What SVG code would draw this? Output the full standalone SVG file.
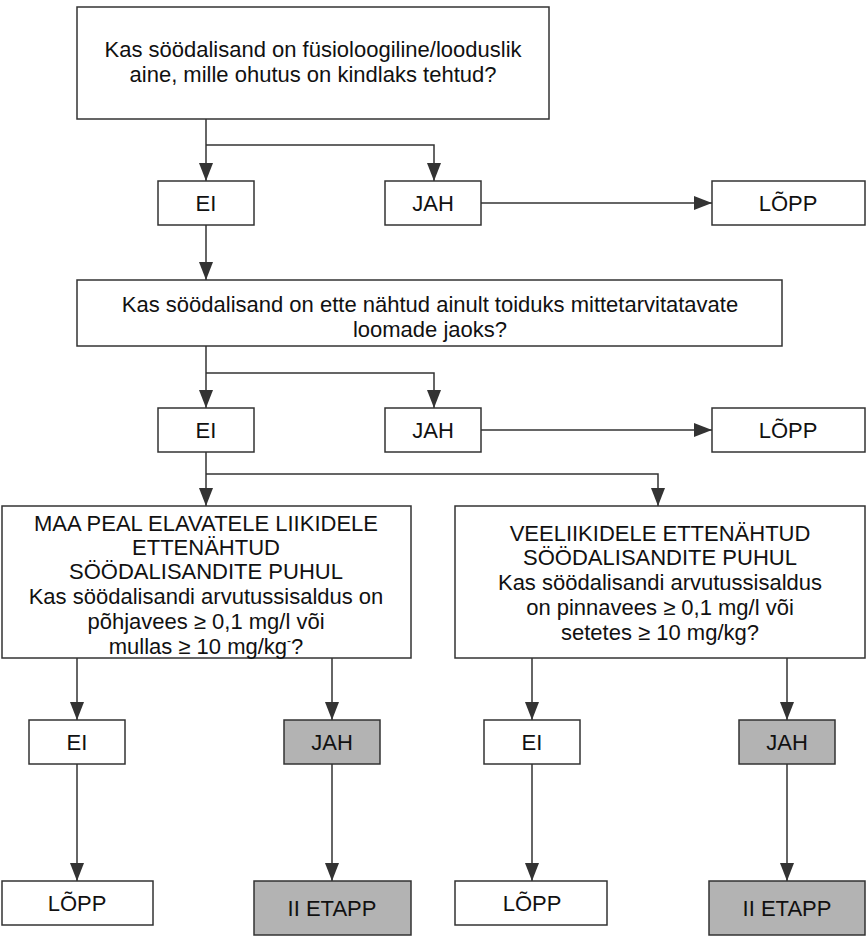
<svg xmlns="http://www.w3.org/2000/svg" width="866" height="945" viewBox="0 0 866 945">
<style>
.b{fill:#fff;stroke:#333;stroke-width:1.5}
.g{fill:#b3b3b3;stroke:#333;stroke-width:1.5}
.t{font-family:"Liberation Sans",Arial,sans-serif;font-size:22px;fill:#111;text-anchor:middle}
.c{fill:none;stroke:#333;stroke-width:1.5}
</style>
<defs>
<marker id="a" markerWidth="18" markerHeight="14" refX="18" refY="7" orient="auto" markerUnits="userSpaceOnUse">
<path d="M0,0 L18,7 L0,14 Z" fill="#333"/>
</marker>
</defs>
<rect width="866" height="945" fill="#fff"/>
<g id="connectors">
<path class="c" d="M206,119 V181" marker-end="url(#a)"/>
<path class="c" d="M206,145 H434 V181" marker-end="url(#a)"/>
<path class="c" d="M481,203 H712" marker-end="url(#a)"/>
<path class="c" d="M206,225 V280" marker-end="url(#a)"/>
<path class="c" d="M206,346 V408" marker-end="url(#a)"/>
<path class="c" d="M206,373 H434 V408" marker-end="url(#a)"/>
<path class="c" d="M481,430 H712" marker-end="url(#a)"/>
<path class="c" d="M206,452 V506" marker-end="url(#a)"/>
<path class="c" d="M206,474 H658 V506" marker-end="url(#a)"/>
<path class="c" d="M77,658 V720" marker-end="url(#a)"/>
<path class="c" d="M332,658 V720" marker-end="url(#a)"/>
<path class="c" d="M532,658 V720" marker-end="url(#a)"/>
<path class="c" d="M787,658 V720" marker-end="url(#a)"/>
<path class="c" d="M77,764 V881" marker-end="url(#a)"/>
<path class="c" d="M332,764 V881" marker-end="url(#a)"/>
<path class="c" d="M532,764 V881" marker-end="url(#a)"/>
<path class="c" d="M787,764 V881" marker-end="url(#a)"/>
</g>
<g id="q1"><rect class="b" x="77" y="7" width="472" height="112"/>
<text class="t" x="313" y="57">Kas söödalisand on füsioloogiline/looduslik</text>
<text class="t" x="313" y="82">aine, mille ohutus on kindlaks tehtud?</text></g>
<g id="ei1"><rect class="b" x="158" y="181" width="96" height="44"/><text class="t" x="206" y="211">EI</text></g>
<g id="jah1"><rect class="b" x="385" y="181" width="96" height="44"/><text class="t" x="433" y="211">JAH</text></g>
<g id="lopp1"><rect class="b" x="712" y="181" width="153" height="44"/><text class="t" x="788" y="211">LÕPP</text></g>
<g id="q2"><rect class="b" x="77" y="280" width="705" height="66"/>
<text class="t" x="430" y="312">Kas söödalisand on ette nähtud ainult toiduks mittetarvitatavate</text>
<text class="t" x="430" y="337">loomade jaoks?</text></g>
<g id="ei2"><rect class="b" x="158" y="408" width="96" height="44"/><text class="t" x="206" y="438">EI</text></g>
<g id="jah2"><rect class="b" x="385" y="408" width="96" height="44"/><text class="t" x="433" y="438">JAH</text></g>
<g id="lopp2"><rect class="b" x="712" y="408" width="153" height="44"/><text class="t" x="788" y="438">LÕPP</text></g>
<g id="q3"><rect class="b" x="2" y="506" width="409" height="152"/>
<text class="t" x="206" y="531">MAA PEAL ELAVATELE LIIKIDELE</text>
<text class="t" x="206" y="555">ETTENÄHTUD</text>
<text class="t" x="206" y="579">SÖÖDALISANDITE PUHUL</text>
<text class="t" x="206" y="604">Kas söödalisandi arvutussisaldus on</text>
<text class="t" x="206" y="629">põhjavees ≥ 0,1 mg/l või</text>
<text class="t" x="206" y="654">mullas ≥ 10 mg/kg<tspan font-size="12" dy="-9">-</tspan><tspan dy="9">?</tspan></text></g>
<g id="q4"><rect class="b" x="455" y="506" width="410" height="152"/>
<text class="t" x="660" y="541">VEELIIKIDELE ETTENÄHTUD</text>
<text class="t" x="660" y="565">SÖÖDALISANDITE PUHUL</text>
<text class="t" x="660" y="590">Kas söödalisandi arvutussisaldus</text>
<text class="t" x="660" y="615">on pinnavees ≥ 0,1 mg/l või</text>
<text class="t" x="660" y="640">setetes ≥ 10 mg/kg?</text></g>
<g id="ei3"><rect class="b" x="29" y="720" width="96" height="44"/><text class="t" x="77" y="750">EI</text></g>
<g id="jah3"><rect class="g" x="284" y="720" width="96" height="44"/><text class="t" x="332" y="750">JAH</text></g>
<g id="ei4"><rect class="b" x="484" y="720" width="96" height="44"/><text class="t" x="532" y="750">EI</text></g>
<g id="jah4"><rect class="g" x="739" y="720" width="96" height="44"/><text class="t" x="787" y="750">JAH</text></g>
<g id="lopp3"><rect class="b" x="2" y="881" width="151" height="44"/><text class="t" x="77" y="911">LÕPP</text></g>
<g id="etapp1"><rect class="g" x="254" y="881" width="157" height="54"/><text class="t" x="332" y="916">II ETAPP</text></g>
<g id="lopp4"><rect class="b" x="455" y="881" width="152" height="44"/><text class="t" x="532" y="911">LÕPP</text></g>
<g id="etapp2"><rect class="g" x="709" y="881" width="156" height="54"/><text class="t" x="787" y="916">II ETAPP</text></g>
</svg>
